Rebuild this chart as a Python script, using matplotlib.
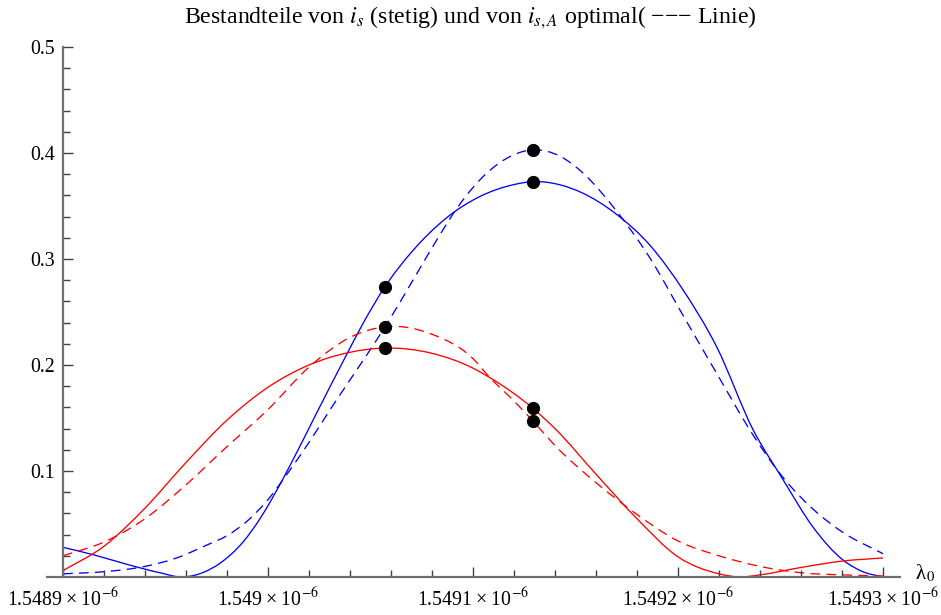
import numpy as np
import matplotlib
matplotlib.use("Agg")
import matplotlib.pyplot as plt
from matplotlib.path import Path
from matplotlib.patches import PathPatch
from matplotlib.ticker import FixedLocator, NullFormatter

plt.rcParams["font.family"] = ["Liberation Serif", "DejaVu Serif"]
plt.rcParams["mathtext.fontset"] = "stix"
plt.rcParams["lines.scale_dashes"] = False

# wavelength samples in micrometres, values dimensionless
lam_blue = [1.5489000, 1.5489148, 1.5489311, 1.5489473, 1.5489580, 1.5489680,
            1.5489766, 1.5489878, 1.5489961, 1.5490020, 1.5490107, 1.5490238,
            1.5490384, 1.5490463, 1.5490571, 1.5490707, 1.5490872, 1.5491034,
            1.5491195, 1.5491293, 1.5491424, 1.5491537, 1.5491701, 1.5491863,
            1.5492024, 1.5492189, 1.5492366, 1.5492512, 1.5492659, 1.5492805,
            1.5492902, 1.5493000]
i_blue = [0.028, 0.021, 0.012, 0.004, 0.000, 0.004,
          0.013, 0.033, 0.055, 0.074, 0.105, 0.155,
          0.210, 0.239, 0.274, 0.308, 0.339, 0.359,
          0.370, 0.373, 0.370, 0.362, 0.342, 0.313,
          0.271, 0.217, 0.139, 0.092, 0.047, 0.016,
          0.005, 0.000]

lam_blue_opt = [1.5489000, 1.5489200, 1.5489400, 1.5489555, 1.5489700, 1.5489800,
                1.5489900, 1.5490000, 1.5490100, 1.5490200, 1.5490317, 1.5490449,
                1.5490571, 1.5490707, 1.5490839, 1.5490922, 1.5491067, 1.5491195,
                1.5491293, 1.5491424, 1.5491537, 1.5491701, 1.5491863, 1.5492024,
                1.5492189, 1.5492366, 1.5492512, 1.5492659, 1.5492805, 1.5493000]
i_blue_opt = [0.003, 0.005, 0.010, 0.018, 0.030, 0.039,
              0.053, 0.073, 0.099, 0.127, 0.162, 0.200,
              0.236, 0.280, 0.323, 0.348, 0.381, 0.398,
              0.403, 0.397, 0.381, 0.345, 0.301, 0.247,
              0.192, 0.134, 0.094, 0.064, 0.042, 0.022]

lam_red = [1.5489000, 1.5489200, 1.5489400, 1.5489600, 1.5489800, 1.5490000,
           1.5490200, 1.5490400, 1.5490571, 1.5490800, 1.5491000, 1.5491083,
           1.5491293, 1.5491400, 1.5491600, 1.5491800, 1.5492000, 1.5492200,
           1.5492300, 1.5492400, 1.5492600, 1.5492800, 1.5493000]
i_red = [0.006, 0.029, 0.065, 0.108, 0.148, 0.179,
         0.200, 0.212, 0.216, 0.211, 0.197, 0.188,
         0.159, 0.140, 0.097, 0.055, 0.019, 0.003,
         0.000, 0.002, 0.009, 0.015, 0.018]

lam_red_opt = [1.5489000, 1.5489200, 1.5489400, 1.5489600, 1.5489800, 1.5490000,
               1.5490200, 1.5490400, 1.5490571, 1.5490800, 1.5491000, 1.5491083,
               1.5491200, 1.5491293, 1.5491400, 1.5491600, 1.5491800, 1.5492000,
               1.5492200, 1.5492400, 1.5492600, 1.5492800, 1.5493000]
i_red_opt = [0.020, 0.033, 0.055, 0.087, 0.123, 0.158,
             0.198, 0.226, 0.236, 0.229, 0.206, 0.188,
             0.166, 0.147, 0.124, 0.089, 0.059, 0.034,
             0.020, 0.010, 0.004, 0.002, 0.001]

# marked operating points
dot_lam = [1.5490571, 1.5490571, 1.5490571,
           1.5491293, 1.5491293, 1.5491293, 1.5491293]
dot_val = [0.274, 0.236, 0.216, 0.403, 0.373, 0.159, 0.147]

x_major = [1.5489, 1.5490, 1.5491, 1.5492, 1.5493]
x_labels = ["1.5489", "1.549", "1.5491", "1.5492", "1.5493"]
y_major = [0.1, 0.2, 0.3, 0.4, 0.5]
y_labels = ["0.1", "0.2", "0.3", "0.4", "0.5"]

um = 1e-6


def hermite_path(xs, ys):
    """Cubic Hermite curve through the samples, as Bezier segments."""
    x = np.asarray(xs, float)
    y = np.asarray(ys, float)
    h = np.diff(x)
    s = np.diff(y) / h
    m = np.empty_like(y)
    m[0], m[-1] = s[0], s[-1]
    m[1:-1] = (s[:-1] * h[1:] + s[1:] * h[:-1]) / (h[:-1] + h[1:])
    verts = [(x[0], y[0])]
    codes = [Path.MOVETO]
    for i in range(len(x) - 1):
        d = h[i] / 3
        verts += [(x[i] + d, y[i] + m[i] * d),
                  (x[i + 1] - d, y[i + 1] - m[i + 1] * d),
                  (x[i + 1], y[i + 1])]
        codes += [Path.CURVE4] * 3
    return Path(verts, codes)


W, H = 941, 615
fig = plt.figure(figsize=(W / 100, H / 100), dpi=100)

# axes box in pixels: x axis runs 47..900, y from -0.005 .. 0.505
px_per_y = 1060.0
y0_px = 577.0
ylo, yhi = -0.005, 0.505
top_px = y0_px - yhi * px_per_y
bot_px = y0_px - ylo * px_per_y
ax = fig.add_axes([47 / W, 1 - bot_px / H, 853 / W, (bot_px - top_px) / H])

px_per_x = 205.0 / 1e-10
x0 = 1.5489 * um
ax.set_xlim(x0 - 16 / px_per_x, x0 + 837 / px_per_x)
ax.set_ylim(ylo, yhi)

lw = 0.95
blue, red = "#0000ff", "#ff0000"
dash = (0, (7, 4.5))
curves = [
    (lam_blue, i_blue, blue, "-"),
    (lam_blue_opt, i_blue_opt, blue, dash),
    (lam_red, i_red, red, "-"),
    (lam_red_opt, i_red_opt, red, dash),
]
for lam, val, col, ls in curves:
    ax.add_patch(PathPatch(hermite_path(np.array(lam) * um, val), fill=False,
                           edgecolor=col, lw=lw, ls=ls, clip_on=False))
ax.plot(np.array(dot_lam) * um, dot_val, "o", color="black", ms=8.5, zorder=5)

# axes through the origin
for side in ("top", "right"):
    ax.spines[side].set_visible(False)
ax.spines["left"].set_position(("data", x0))
ax.spines["bottom"].set_position(("data", 0))
ax.spines["left"].set_bounds(0, 0.5)
for side in ("left", "bottom"):
    ax.spines[side].set_color("#707070")
    ax.spines[side].set_linewidth(1.6)

ax.xaxis.set_major_locator(FixedLocator(np.array(x_major) * um))
ax.set_xticklabels([s + "\u2009\u00d7\u200910$^{-6}$" for s in x_labels])
ax.xaxis.set_minor_locator(FixedLocator(
    np.arange(1.5489, 1.54930001, 0.00002) * um))
ax.yaxis.set_major_locator(FixedLocator(y_major))
ax.set_yticklabels(y_labels)
ax.yaxis.set_minor_locator(FixedLocator(np.arange(0.02, 0.5, 0.02)))
ax.xaxis.set_minor_formatter(NullFormatter())

ax.tick_params(which="both", direction="in", color="#404040", width=1.0,
               labelsize=14.3)
ax.tick_params(which="major", length=7.5)
ax.tick_params(which="minor", length=5)
ax.tick_params(axis="x", which="major", pad=8)
ax.tick_params(axis="y", which="major", pad=6)

ax.text(1.0, -0.002, "   \u03bb$_0$", transform=ax.get_yaxis_transform(),
        ha="left", va="baseline", fontsize=15)

fig.text(0.5, 1 - 18 / H,
         "Bestandteile von $i_s$ (stetig) und von $i_{s,A}$ optimal( "
         "\u2212\u2212\u2212 Linie)",
         ha="center", va="center", fontsize=17.2)

fig.savefig("out.png", dpi=100, facecolor="white")
